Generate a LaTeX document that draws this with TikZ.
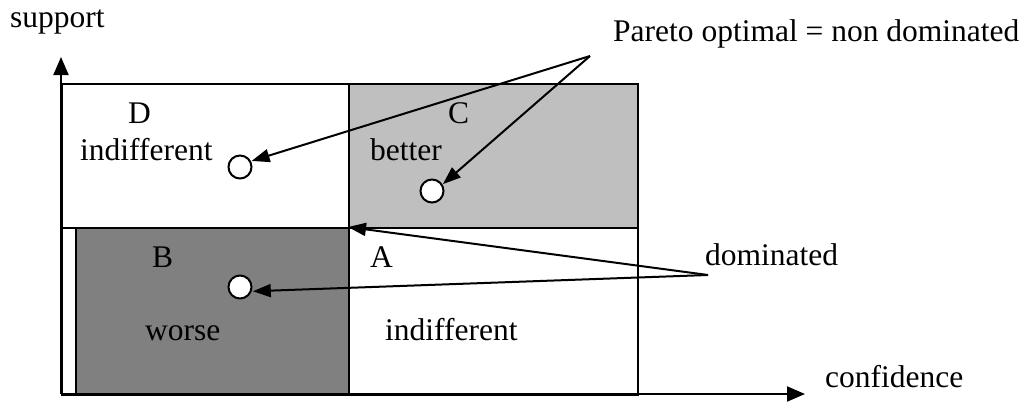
\documentclass[tikz,border=0pt]{standalone}
\usepackage{fontspec}
\setmainfont{Liberation Serif}
\usetikzlibrary{arrows.meta}
\begin{document}
\begin{tikzpicture}[x=1pt,y=-1pt,
  lbl/.style={anchor=base west,inner sep=0pt,font=\fontsize{31.5}{38}\selectfont},
  region/.style={draw=black,line width=2pt,anchor=north west,inner sep=0pt},
  dot/.style={circle,draw=black,fill=white,line width=2pt,minimum size=23pt,inner sep=0pt},
  axis/.style={line width=2pt,-{Triangle[length=18pt,width=15pt]}},
  pointer/.style={line width=2pt,-{Triangle[length=18pt,width=13pt]}}]
\useasboundingbox (0,0) rectangle (1024,402);
% regions
\node[region,fill=white,minimum width=287pt,minimum height=144pt] (D) at (61,83) {};
\node[region,fill=black!25,minimum width=289pt,minimum height=144pt] (C) at (348,83) {};
\node[region,fill=white,minimum width=287pt,minimum height=167pt] (Bout) at (61,227) {};
\node[region,fill=black!50,minimum width=273pt,minimum height=167pt] (B) at (75,227) {};
\node[region,fill=white,minimum width=289pt,minimum height=167pt] (A) at (348,227) {};
% axes
\coordinate (O) at (61,394);
\coordinate (ytip) at (61,57);
\coordinate (xtip) at (805,394);
\draw[axis] (O) -- (ytip);
\draw[axis] (O) -- (xtip);
% labels
\node[lbl] (support) at (10,27) {support};
\node[lbl] (confidence) at (825,387) {confidence};
\node[lbl] (Dl) at (128,123) {D};
\node[lbl] (Dt) at (80,160) {indifferent};
\node[lbl] (Cl) at (448,123) {C};
\node[lbl] (Ct) at (370,160) {better};
\node[lbl] (Bl) at (152,267) {B};
\node[lbl] (Bt) at (145,340) {worse};
\node[lbl] (Al) at (370,267) {A};
\node[lbl] (At) at (385,340) {indifferent};
\node[lbl] (pareto) at (613,41) {Pareto optimal = non dominated};
\node[lbl] (dom) at (705,265) {dominated};
% points
\node[dot] (cD) at (240,167) {};
\node[dot] (cC) at (432,191) {};
\node[dot] (cB) at (240,287) {};
% pointers
\coordinate (pv) at (590,56);
\coordinate (dv) at (708,275);
\draw[pointer] (pv) -- ([shift={(2pt,-2pt)}]cD.40);
\draw[pointer] (pv) -- ([shift={(2pt,-2pt)}]cC.45);
\draw[pointer] (dv) -- (A.north west);
\draw[pointer] (dv) -- ([shift={(2pt,2pt)}]cB.-30);
\end{tikzpicture}
\end{document}
